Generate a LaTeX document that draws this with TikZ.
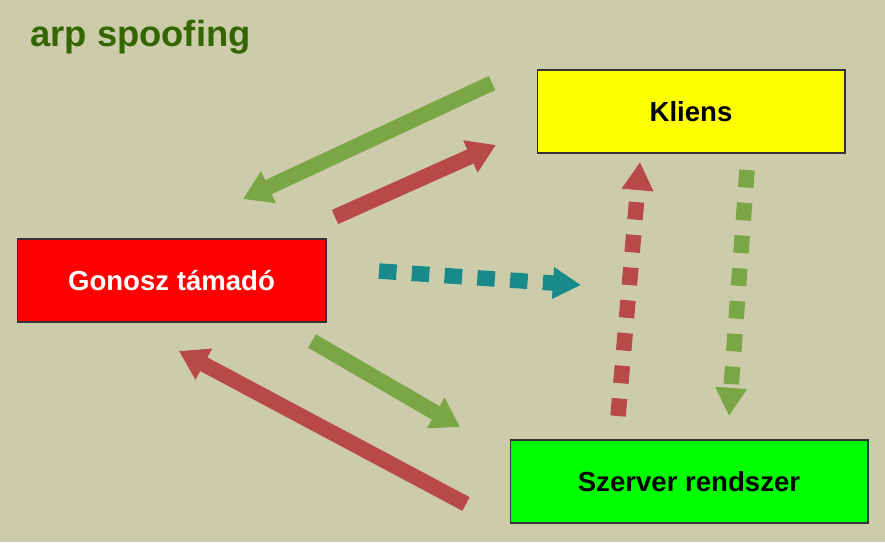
\documentclass[tikz,border=0pt]{standalone}
\usepackage{fontspec}
\setmainfont{Liberation Sans}
\usetikzlibrary{arrows.meta}
\definecolor{bg}{RGB}{204,204,170}
\definecolor{titgreen}{RGB}{51,102,0}
\definecolor{arrgreen}{RGB}{123,166,70}
\definecolor{arrred}{RGB}{185,73,72}
\definecolor{arrteal}{RGB}{24,138,138}
\definecolor{kyellow}{RGB}{255,255,0}
\definecolor{gred}{RGB}{255,0,0}
\definecolor{sgreen}{RGB}{0,255,0}

\begin{document}
\begin{tikzpicture}[x=0.02cm,y=-0.02cm,
  box/.style={draw=black!80,line width=0.6pt,minimum height=1.66cm,inner sep=0pt,
    font=\fontsize{15.7}{18}\selectfont\bfseries},
  arr/.style={line width=8.8pt,-{Triangle[length=16pt,width=19pt]}},
  dasharr/.style={line width=8.8pt,dash pattern=on 10pt off 8.7pt,
    -{Triangle[length=16pt,width=17pt]}}]
  \fill[bg] (0,0) rectangle (885,542);
  \useasboundingbox (0,0) rectangle (885,542);
  % cim
  \node[anchor=base west,inner sep=0pt,text=titgreen,
    font=\fontsize{20.7}{24}\selectfont\bfseries] (title) at (30,46) {arp spoofing};
  % dobozok
  \node[box,fill=kyellow,minimum width=6.16cm] (kliens) at (691,111.5) {Kliens};
  \node[box,fill=gred,text=white,minimum width=6.18cm] (gonosz) at (171.5,280.5) {Gonosz támadó};
  \node[box,fill=sgreen,minimum width=7.16cm] (szerver) at (689,481.5) {Szerver rendszer};
  % nyilak vegpontjai
  \coordinate (g1a) at (492,83);   \coordinate (g1b) at (243,199);
  \coordinate (r1a) at (335,217);  \coordinate (r1b) at (496,145);
  \coordinate (ta) at (379,271);   \coordinate (tb) at (581,285);
  \coordinate (g2a) at (312,341);  \coordinate (g2b) at (460,427);
  \coordinate (r2a) at (466,504);  \coordinate (r2b) at (179,351);
  \coordinate (rda) at (618,416);  \coordinate (rdb) at (640,162);
  \coordinate (gda) at (747,170);  \coordinate (gdb) at (729,416);
  % tomor nyilak
  \draw[arr,arrgreen] (g1a)--(g1b);
  \draw[arr,arrred] (r1a)--(r1b);
  \draw[arr,arrgreen] (g2a)--(g2b);
  \draw[arr,arrred] (r2a)--(r2b);
  % szaggatott nyilak
  \draw[dasharr,arrteal] (ta)--(tb);
  \draw[dasharr,arrred] (rda)--(rdb);
  \draw[dasharr,arrgreen] (gda)--(gdb);
\end{tikzpicture}
\end{document}
